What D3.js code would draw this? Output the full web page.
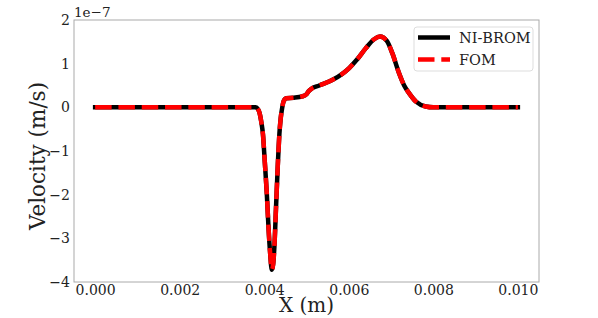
<!DOCTYPE html>
<html>
<head>
<meta charset="utf-8">
<script src="https://cdn.jsdelivr.net/npm/d3@7"></script>
<style>
  body { margin: 0; background: #fff; }
  text { font-family: "DejaVu Serif", serif; fill: #222; }
</style>
</head>
<body>
<div id="chart"></div>
<script>
// x positions (m) and velocity (units of 1e-7 m/s)
const xs = [0.0000, 0.0036, 0.0038, 0.00385, 0.00389, 0.00393, 0.00397, 0.00401, 0.00406, 0.0041,
  0.00414, 0.00418, 0.00421, 0.00424, 0.00428, 0.00432, 0.00436, 0.00439, 0.00442, 0.00446,
  0.00452, 0.0047, 0.0049, 0.0050, 0.00505, 0.00511, 0.0053, 0.00562, 0.00601, 0.0062,
  0.0064, 0.0066, 0.00674, 0.0069, 0.00703, 0.00719, 0.00731, 0.00743, 0.00759, 0.00782,
  0.0080, 0.0100];
const velBrom = [0, 0, 0, -0.04, -0.13, -0.33, -0.62, -1.2, -1.96, -2.73,
  -3.34, -3.72, -3.6, -3.2, -2.27, -1.35, -0.59, -0.25, -0.04, 0.14,
  0.21, 0.22, 0.25, 0.30, 0.37, 0.42, 0.5, 0.63, 0.9, 1.1,
  1.35, 1.56, 1.62, 1.52, 1.24, 0.78, 0.5, 0.32, 0.13, 0.02,
  0, 0];
const velFom = velBrom.slice();

const xTicks = [0, 0.002, 0.004, 0.006, 0.008, 0.010];
const yTicks = [-4, -3, -2, -1, 0, 1, 2];
const seriesNames = ["NI-BROM", "FOM"];

const W = 598, H = 318;
const margin = {top: 20, right: 59, bottom: 36, left: 74};
const iw = W - margin.left - margin.right;
const ih = H - margin.top - margin.bottom;

const svg = d3.select("#chart").append("svg")
  .attr("width", W)
  .attr("height", H);

const g = svg.append("g")
  .attr("transform", `translate(${margin.left},${margin.top})`);

const x = d3.scaleLinear().domain([-0.0005, 0.0105]).range([0, iw]);
const y = d3.scaleLinear().domain([-4, 2]).range([ih, 0]);

// frame
g.append("rect")
  .attr("width", iw)
  .attr("height", ih)
  .attr("fill", "none")
  .attr("stroke", "#aaa")
  .attr("stroke-width", 1);

// ticks (labels only, no tick marks)
const xAxis = g.append("g")
  .attr("transform", `translate(0,${ih})`)
  .call(d3.axisBottom(x).tickValues(xTicks).tickFormat(d3.format(".3f")).tickSize(0));
const yAxis = g.append("g")
  .call(d3.axisLeft(y).tickValues(yTicks).tickFormat(d => d < 0 ? "\u2212" + Math.abs(d) : d).tickSize(0).tickPadding(4));
[xAxis, yAxis].forEach(a => {
  a.select(".domain").remove();
  a.selectAll("text").attr("font-size", 14).attr("font-family", "DejaVu Serif").attr("fill", "#222");
});
xAxis.selectAll("text").attr("y", 13).attr("dy", 0);

// offset text
g.append("text")
  .attr("x", 0)
  .attr("y", -3)
  .attr("font-size", 13.5)
  .text("1e\u22127");

// axis labels
svg.append("text")
  .attr("x", margin.left + iw / 2)
  .attr("y", 312)
  .attr("text-anchor", "middle")
  .attr("font-size", 20)
  .text("X (m)");

svg.append("text")
  .attr("transform", "translate(45,156) rotate(-90)")
  .attr("text-anchor", "middle")
  .attr("font-size", 21.5)
  .text("Velocity (m/s)");

const line = d3.line()
  .x(d => x(d[0]))
  .y(d => y(d[1]))
  .curve(d3.curveMonotoneX);

g.append("path")
  .datum(xs.map((v, i) => [v, velBrom[i]]))
  .attr("d", line)
  .attr("fill", "none")
  .attr("stroke", "#000")
  .attr("stroke-width", 4.5)
  .attr("stroke-linecap", "square");

g.append("path")
  .datum(xs.map((v, i) => [v, velFom[i]]))
  .attr("d", line)
  .attr("fill", "none")
  .attr("stroke", "#ff0000")
  .attr("stroke-width", 4.5)
  .attr("stroke-dasharray", "16.5,6.8");

// legend
const lg = svg.append("g").attr("transform", "translate(414,27)");
lg.append("rect")
  .attr("width", 119)
  .attr("height", 44)
  .attr("rx", 3)
  .attr("fill", "#fff")
  .attr("fill-opacity", 0.8)
  .attr("stroke", "#ddd");
seriesNames.forEach((name, i) => {
  const yy = 10.5 + i * 22;
  lg.append("line")
    .attr("x1", 4).attr("x2", 36)
    .attr("y1", yy).attr("y2", yy)
    .attr("stroke", i === 0 ? "#000" : "#ff0000")
    .attr("stroke-width", 4.5)
    .attr("stroke-dasharray", i === 0 ? null : "16.5,6.8");
  lg.append("text")
    .attr("x", 45)
    .attr("y", yy)
    .attr("dy", "0.35em")
    .attr("font-size", 14.5)
    .text(name);
});
</script>
</body>
</html>
